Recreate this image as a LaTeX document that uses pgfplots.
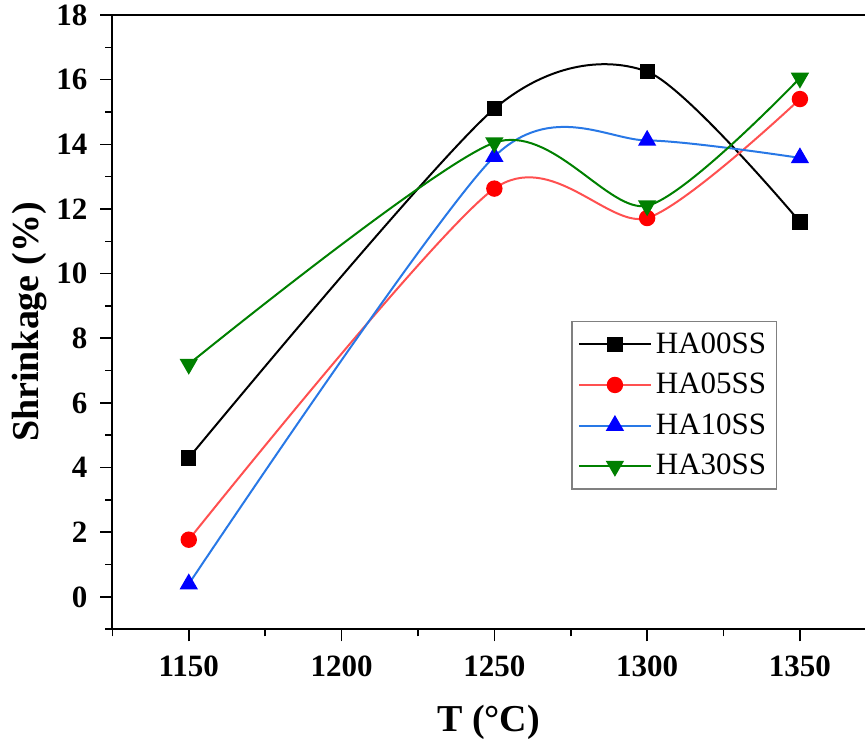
\documentclass[border=0pt]{standalone}
\usepackage{pgfplots}
\pgfplotsset{compat=1.18}
\usepackage{fontspec}
\setmainfont{Liberation Serif}
\definecolor{redline}{RGB}{255,80,80}
\definecolor{blueline}{RGB}{40,120,230}
\definecolor{greenc}{RGB}{0,128,0}
\begin{document}
\begin{tikzpicture}
\begin{axis}[
  scale only axis,
  width=376.4pt, height=307.2pt,
  xmin=1125, xmax=1371.3, ymin=-1, ymax=18,
  axis x line*=box, axis y line*=left,
  axis line style={line width=1pt},
  xtick={1150,1200,...,1350},
  minor xtick={1125,1175,...,1375},
  ytick={0,2,...,18},
  minor ytick={-1,1,...,17},
  tick align=outside, tick pos=left,
  major tick length=6pt, minor tick length=3.5pt,
  every tick/.style={black, line width=0.8pt},
  /pgf/number format/assume math mode=true,
  /pgf/number format/1000 sep={},
  ticklabel style={font=\bfseries\fontsize{15.5}{16}\selectfont},
  xticklabel style={yshift=-4pt},
  yticklabel style={xshift=-3pt},
  xlabel={\bfseries T (°C)},
  ylabel={\bfseries Shrinkage (\%)},
  label style={font=\bfseries\fontsize{19}{20}\selectfont},
  xlabel style={yshift=-7pt},
  ylabel style={yshift=-2pt},
  legend style={at={(0.6098,0.5019)}, anchor=north west, draw=gray, line width=0.6pt,
    font=\fontsize{15.5}{16}\selectfont, row sep=4.5pt, inner xsep=3pt, inner ysep=3.5pt},
  legend cell align=left,
  legend image code/.code={
    \draw[mark repeat=2,mark phase=2] plot coordinates {(0pt,0pt) (18pt,0pt) (36pt,0pt)};
  },
]
\addplot[black, line width=1pt, smooth, tension=0.45, mark=square*, mark size=3.3pt,
  mark options={solid, fill=black, draw=black}]
  coordinates {(1150,4.3) (1250,15.1) (1300,16.25) (1350,11.6)};
\addlegendentry{HA00SS}
\addplot[redline, line width=1pt, smooth, tension=0.45, mark=*, mark size=3.6pt,
  mark options={solid, fill=red, draw=red}]
  coordinates {(1150,1.77) (1250,12.63) (1300,11.72) (1350,15.4)};
\addlegendentry{HA05SS}
\addplot[blueline, line width=1pt, smooth, tension=0.45, mark=triangle*, mark size=4.3pt,
  mark options={solid, fill=blue, draw=blue}]
  coordinates {(1150,0.4) (1250,13.62) (1300,14.12) (1350,13.58)};
\addlegendentry{HA10SS}
\addplot[greenc, line width=1pt, smooth, tension=0.45, mark=triangle*, mark size=4.3pt,
  mark options={solid, fill=greenc, draw=greenc, rotate=180}]
  coordinates {(1150,7.2) (1250,14.05) (1300,12.1) (1350,16.05)};
\addlegendentry{HA30SS}
\coordinate (SW) at (rel axis cs:0,0);
\coordinate (NE) at (rel axis cs:1,1);
\end{axis}
\pgfresetboundingbox
\path ([shift={(-56.2pt,-57.4pt)}]SW) rectangle ([shift={(0pt,7.5pt)}]NE);
\end{tikzpicture}
\end{document}
